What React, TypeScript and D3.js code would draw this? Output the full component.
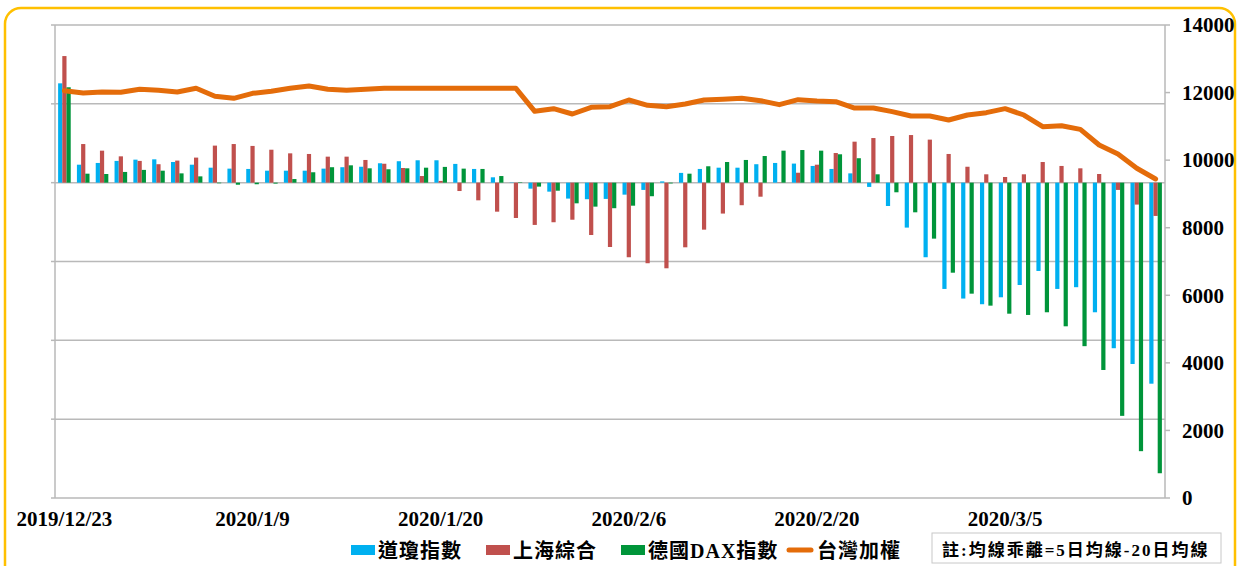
import React from "react";
import * as d3 from "d3";

// trading days (union of markets)
const dates = [
  "2019/12/23", "2019/12/26", "2019/12/27", "2019/12/30", "2019/12/31", "2020/1/2", "2020/1/3", "2020/1/6", "2020/1/7", "2020/1/8",
  "2020/1/9", "2020/1/10", "2020/1/11", "2020/1/13", "2020/1/14", "2020/1/15", "2020/1/16", "2020/1/17", "2020/1/18", "2020/1/19",
  "2020/1/20", "2020/1/21", "2020/1/22", "2020/1/23", "2020/1/24", "2020/1/30", "2020/1/31", "2020/2/3", "2020/2/4", "2020/2/5",
  "2020/2/6", "2020/2/7", "2020/2/10", "2020/2/11", "2020/2/12", "2020/2/13", "2020/2/14", "2020/2/17", "2020/2/18", "2020/2/19",
  "2020/2/20", "2020/2/21", "2020/2/24", "2020/2/25", "2020/2/26", "2020/2/27", "2020/2/28", "2020/3/2", "2020/3/3", "2020/3/4",
  "2020/3/5", "2020/3/6", "2020/3/9", "2020/3/10", "2020/3/11", "2020/3/12", "2020/3/13", "2020/3/16", "2020/3/17",
];

// 均線乖離 (%), left axis
const dow = [
  6.3, 1.14, 1.25, 1.38, 1.46, 1.48, 1.31, 1.14, 0.95, 0.89,
  0.87, 0.76, 0.76, 0.76, 0.89, 0.98, 1.01, 1.23, 1.36, 1.42,
  1.42, 1.19, 0.87, 0.34, 0.02, -0.38, -0.57, -1.01, -1.05, -1.03,
  -0.76, -0.46, 0.08, 0.62, 0.87, 0.95, 0.95, 1.17, 1.25, 1.21,
  1.06, 0.87, 0.59, -0.27, -1.48, -2.85, -4.73, -6.74, -7.35, -7.71,
  -7.27, -6.49, -5.6, -6.74, -6.63, -8.22, -10.5, -11.5, -12.75,
];
const shanghai = [
  8.03, 2.45, 2.03, 1.67, 1.38, 1.17, 1.4, 1.59, 2.35, 2.45,
  2.33, 2.09, 1.86, 1.82, 1.65, 1.65, 1.44, 1.2, 0.93, 0.42,
  0.11, -0.53, -1.12, -1.84, -2.24, -2.68, -2.51, -2.35, -3.32, -4.08,
  -4.73, -5.11, -5.43, -4.1, -2.98, -1.96, -1.43, -0.89, -0.02, 0.63,
  1.14, 1.88, 2.6, 2.83, 2.96, 3.02, 2.73, 1.82, 1.01, 0.53,
  0.36, 0.53, 1.31, 1.06, 0.91, 0.55, -0.46, -1.39, -2.11,
];
const dax = [
  6.05, 0.57, 0.55, 0.68, 0.81, 0.76, 0.59, 0.4, -0.04, -0.13,
  -0.1, -0.06, 0.23, 0.66, 0.98, 1.1, 0.91, 0.85, 0.91, 0.95,
  1.0, 0.89, 0.87, 0.42, 0.03, -0.25, -0.51, -1.31, -1.52, -1.62,
  -1.46, -0.86, -0.05, 0.57, 1.04, 1.31, 1.44, 1.69, 2.03, 2.07,
  2.03, 1.8, 1.55, 0.53, -0.61, -1.88, -3.55, -5.71, -7.04, -7.8,
  -8.31, -8.39, -8.22, -9.11, -10.37, -11.88, -14.79, -17.03, -18.43,
];
// 台灣加權 index level, right axis
const taiex = [
  12055, 11987, 12017, 12007, 12096, 12067, 12017, 12126, 11889, 11830,
  11978, 12037, 12126, 12194, 12096, 12067, 12096, 12126, 12126, 12126,
  12126, 12126, 12126, 12126, 12126, 11445, 11524, 11366, 11563, 11583,
  11780, 11622, 11583, 11662, 11780, 11800, 11830, 11760, 11642, 11790,
  11750, 11731, 11543, 11543, 11435, 11307, 11307, 11188, 11336, 11405,
  11524, 11336, 10990, 11020, 10912, 10448, 10182, 9759, 9442,
];

const barSeries = [
  { name: "道瓊指數", values: dow, color: "#00B0F0" },
  { name: "上海綜合", values: shanghai, color: "#C0504D" },
  { name: "德國DAX指數", values: dax, color: "#00953A" },
];
const lineName = "台灣加權";
const lineColor = "#E46C0A";

const leftTicks = [-20, -15, -10, -5, 0, 5, 10];
const rightTicks = [0, 2000, 4000, 6000, 8000, 10000, 12000, 14000];
const labelEvery = 10;
const note = "註:均線乖離=5日均線-20日均線";

const W = 1239;
const H = 566;
const FONT = "'Liberation Serif', 'Noto Sans CJK TC', serif";

export default function App() {
  const left = 55;
  const right = 1165;
  const top = 25;
  const bottom = 498;

  const x = d3.scaleBand<string>().domain(dates).range([left, right]).paddingInner(0.33).paddingOuter(0.165);
  const xs = d3.scaleBand<number>().domain([0, 1, 2]).range([0, x.bandwidth()]);
  const yL = d3.scaleLinear().domain([-20, 10]).range([bottom, top]);
  const yR = d3.scaleLinear().domain([0, 14000]).range([bottom, top]);

  const line = d3
    .line<number>()
    .x((_, i) => (x(dates[i]) as number) + x.bandwidth() / 2)
    .y((d) => yR(d));

  const legendX = [351, 486, 621, 787];

  return (
    <svg width={W} height={H} style={{ position: "absolute", left: 0, top: 0, background: "#fff" }}>
      <rect x={5} y={8} width={1230} height={600} rx={16} fill="#fff" stroke="#FFC000" strokeWidth={2.5} />

      {leftTicks.map((t) => (
        <g key={t}>
          <line x1={left} x2={right} y1={yL(t)} y2={yL(t)} stroke="#B9B9B9" strokeWidth={1.5} />
          <line x1={left - 4} x2={left} y1={yL(t)} y2={yL(t)} stroke="#B9B9B9" strokeWidth={1.5} />
        </g>
      ))}
      <line x1={left} x2={left} y1={top} y2={bottom} stroke="#B9B9B9" strokeWidth={1.5} />
      <line x1={right} x2={right} y1={top} y2={bottom} stroke="#B9B9B9" strokeWidth={1.5} />
      {rightTicks.map((t) => (
        <g key={t}>
          <line x1={right} x2={right + 5} y1={yR(t)} y2={yR(t)} stroke="#B9B9B9" strokeWidth={1.5} />
          <text x={1182} y={yR(t)} dy="0.35em" fontFamily={FONT} fontWeight="bold" fontSize={21} fill="#000">
            {t}
          </text>
        </g>
      ))}

      {barSeries.map((s, si) => (
        <g key={s.name} fill={s.color}>
          {s.values.map((v, i) => (
            <rect
              key={i}
              x={(x(dates[i]) as number) + (xs(si) as number)}
              y={Math.min(yL(v), yL(0))}
              width={xs.bandwidth()}
              height={Math.abs(yL(v) - yL(0))}
            />
          ))}
        </g>
      ))}

      <path d={line(taiex) || ""} fill="none" stroke={lineColor} strokeWidth={5} strokeLinejoin="round" strokeLinecap="round" />

      {dates.map((d, i) =>
        i % labelEvery === 0 ? (
          <text
            key={d}
            x={(x(d) as number) + x.bandwidth() / 2}
            y={526}
            textAnchor="middle"
            fontFamily={FONT}
            fontWeight="bold"
            fontSize={21}
          >
            {d}
          </text>
        ) : null
      )}

      {barSeries.map((s, i) => (
        <g key={s.name}>
          <rect x={legendX[i]} y={545} width={24} height={10} fill={s.color} />
          <text x={legendX[i] + 27} y={558} fontFamily={FONT} fontWeight="bold" fontSize={20} letterSpacing={1}>
            {s.name}
          </text>
        </g>
      ))}
      <line x1={legendX[3] + 2} x2={legendX[3] + 24} y1={550} y2={550} stroke={lineColor} strokeWidth={5} strokeLinecap="round" />
      <text x={legendX[3] + 30} y={558} fontFamily={FONT} fontWeight="bold" fontSize={20} letterSpacing={1}>
        {lineName}
      </text>

      <rect x={932} y={533} width={289} height={30} fill="#fff" stroke="#C8C8C8" strokeWidth={1} />
      <text x={942} y={556} fontFamily={FONT} fontWeight="bold" fontSize={17} letterSpacing={2}>
        {note}
      </text>
    </svg>
  );
}
